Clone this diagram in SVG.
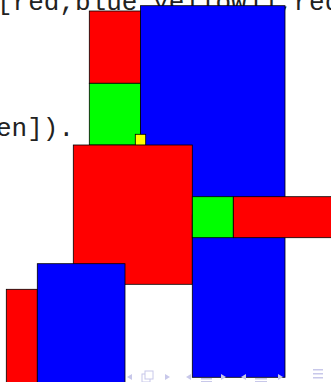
<svg xmlns="http://www.w3.org/2000/svg" width="331" height="382" viewBox="0 0 331 382">
<style>
.t{font-family:"Liberation Mono","Courier New",monospace;font-size:26px;fill:#222}
.b{stroke:#000;stroke-width:0.8}
.r{fill:#ff0000}.g{fill:#00ff00}.u{fill:#0000ff}.y{fill:#ffff00}
.nav{fill:#c8c8ea}
</style>
<rect width="331" height="382" fill="#fff"/>
<text class="t" x="-3" y="10">[red,blue,yellow]],red</text>
<text class="t" x="-4" y="136">en]).</text>
<g id="red-top"><rect class="b r" x="89.3" y="11" width="51.4" height="72.3"/></g>
<g id="green-left"><rect class="b g" x="89.3" y="83.3" width="51.4" height="61.7"/></g>
<g id="blue-tall"><rect class="b u" x="140.5" y="5.7" width="144.5" height="215"/></g>
<g id="yellow-small"><rect class="b y" x="135.3" y="134.3" width="10.4" height="11"/></g>
<g id="red-big"><rect class="b r" x="73.3" y="145" width="119" height="139.3"/></g>
<g id="blue-lower"><rect class="b u" x="192.3" y="215" width="92.7" height="162.3"/></g>
<g id="green-bar"><rect class="b g" x="192.3" y="196.7" width="41" height="41"/></g>
<g id="red-bar"><rect class="b r" x="233.3" y="196.7" width="100" height="41"/></g>
<g id="red-bottom-left"><rect class="b r" x="6.3" y="289.3" width="31" height="100"/></g>
<g id="blue-bottom"><rect class="b u" x="37.3" y="263.7" width="87.7" height="130"/></g>
<g id="connectors"></g>
<g id="nav">
<path class="nav" d="M127,377 l5,-3 v6 z"/>
<rect x="142" y="374" width="8" height="8" fill="none" stroke="#c8c8ea" stroke-width="1"/>
<rect x="145" y="371" width="8" height="8" fill="#fff" stroke="#c8c8ea" stroke-width="1"/>
<path class="nav" d="M170,377 l-5,-3 v6 z"/>
<path class="nav" d="M186,377 l5,-3 v6 z"/>
<rect class="nav" x="201" y="378" width="11" height="1.5"/>
<rect class="nav" x="201" y="381" width="11" height="1.5"/>
<path class="nav" d="M226,377 l-5,-3 v6 z"/>
<path class="nav" d="M241,377 l5,-3 v6 z"/>
<rect class="nav" x="255" y="378" width="12" height="1.5"/>
<rect class="nav" x="255" y="381" width="12" height="1.5"/>
<path class="nav" d="M283,377 l-5,-3 v6 z"/>
<rect class="nav" x="313" y="369" width="10" height="1.5"/>
<rect class="nav" x="313" y="373" width="10" height="1.5"/>
<rect class="nav" x="313" y="377" width="10" height="1.5"/>
</g>
</svg>
